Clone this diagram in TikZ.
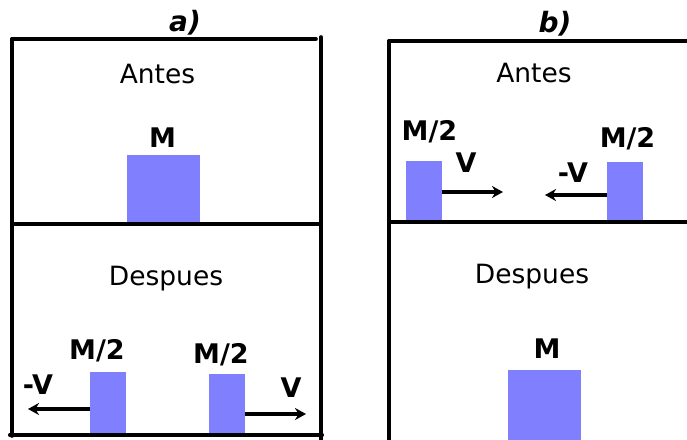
\documentclass[tikz,border=0pt]{standalone}
\usepackage{fontspec}
\setmainfont{DejaVu Sans}
\usetikzlibrary{arrows.meta}
\definecolor{blockblue}{RGB}{128,128,255}
\tikzset{
  frame/.style={line width=3.6pt, line cap=round},
  block/.style={fill=blockblue, draw=none, inner sep=0pt, anchor=south west},
  title/.style={font=\fontsize{26.5}{30}\selectfont, anchor=base, inner sep=0pt},
  lab/.style={font=\fontsize{27}{30}\selectfont\bfseries, anchor=base, inner sep=0pt},
  head/.style={font=\fontsize{28}{30}\selectfont\bfseries\itshape, anchor=base, inner sep=0pt},
  arr/.style={line width=3.2pt, -{Stealth[length=11pt,width=12pt]}}
}
\begin{document}
\begin{tikzpicture}[x=1pt,y=-1pt]
\useasboundingbox (0,0) rectangle (687,439);
% panel a frame
\coordinate (aTL) at (12,39);
\coordinate (aTR) at (316,39);
\coordinate (aRT) at (321,37);
\coordinate (aRB) at (321,441);
\coordinate (aBL) at (10,435);
\coordinate (aBR) at (322,435);
\coordinate (aLB) at (12,436);
\coordinate (aML) at (12,224);
\coordinate (aMR) at (320,224);
\draw[frame] (aTL) -- (aTR);
\draw[frame] (aRT) -- (aRB);
\draw[frame] (aTL) -- (aLB);
\draw[frame] (aBL) -- (aBR);
\draw[frame] (aML) -- (aMR);
% panel b frame
\coordinate (bTL) at (389,41);
\coordinate (bTR) at (690,41);
\coordinate (bLB) at (389,441);
\coordinate (bML) at (389,222);
\coordinate (bMR) at (690,222);
\draw[frame] (bTL) -- (bTR);
\draw[frame] (bTL) -- (bLB);
\draw[frame] (bML) -- (bMR);
% blocks panel a
\node[block, minimum width=73pt, minimum height=69pt] (aM) at (127,224) {};
\node[block, minimum width=36pt, minimum height=63pt] (aL) at (90,435) {};
\node[block, minimum width=36pt, minimum height=61pt] (aR) at (209,435) {};
% blocks panel b
\node[block, minimum width=36pt, minimum height=61pt] (bL) at (406,222) {};
\node[block, minimum width=36pt, minimum height=60pt] (bR) at (607,222) {};
\node[block, minimum width=73pt, minimum height=71pt] (bM) at (508,441) {};
% redraw frame lines over blocks
\draw[frame] (aML) -- (aMR);
\draw[frame] (aBL) -- (aBR);
\draw[frame] (bML) -- (bMR);
% texts panel a
\node[head] (ta) at (185,31) {a)};
\node[title] (aAntes) at (157.5,83) {Antes};
\node[lab] (aMl) at (162.5,147) {M};
\node[title] (aDesp) at (166,285) {Despues};
\node[lab] (aLl) at (97,359) {M/2};
\node[lab] (aRl) at (221,363) {M/2};
\node[lab] (aVl) at (38,394) {-V};
\node[lab] (aVr) at (291,397) {V};
% texts panel b
\node[head] (tb) at (555,32) {b)};
\node[title] (bAntes) at (534,82) {Antes};
\node[lab] (bLl) at (429.5,140) {M/2};
\node[lab] (bRl) at (627.5,147) {M/2};
\node[lab] (bVl) at (466,172) {V};
\node[lab] (bVr) at (573,182) {-V};
\node[title] (bDesp) at (532,283) {Despues};
\node[lab] (bMl) at (547,358) {M};
% arrows
\coordinate (aLt) at (28,409);
\coordinate (aRt) at (306,414);
\coordinate (bLt) at (503,192);
\coordinate (bRt) at (545,195);
\draw[arr] (aL.west |- aLt) -- (aLt);
\draw[arr] (aR.east |- aRt) -- (aRt);
\draw[arr] (bL.east |- bLt) -- (bLt);
\draw[arr] (bR.west |- bRt) -- (bRt);
\end{tikzpicture}
\end{document}
